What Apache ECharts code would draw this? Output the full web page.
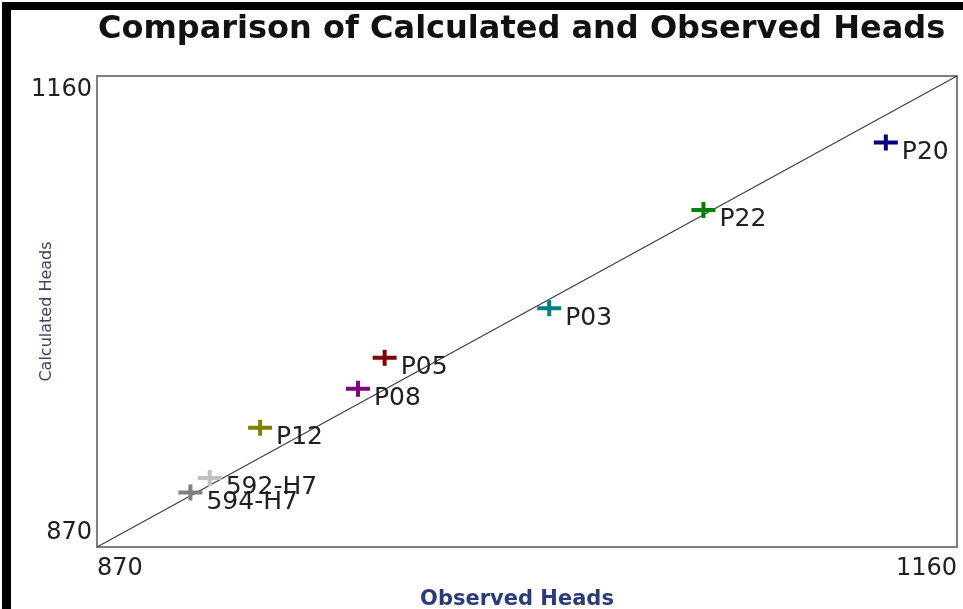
<!DOCTYPE html>
<html>
<head>
<meta charset="utf-8">
<script src="https://cdn.jsdelivr.net/npm/echarts@6/dist/echarts.min.js"></script>
<style>
  html, body { margin: 0; padding: 0; background: #fff; }
  #chart { width: 963px; height: 609px; }
</style>
</head>
<body>
<div id="chart"></div>
<script>
// Observation wells: observed vs calculated heads
const wellNames = ['P20', 'P22', 'P03', 'P05', 'P08', 'P12', '592-H7', '594-H7'];
const observedHeads = [1136, 1074.5, 1022.5, 967, 958, 925, 908, 901.5];
const calculatedHeads = [1119, 1077.5, 1017, 986.5, 967.5, 943.5, 912.5, 903.5];
const wellColors = ['#00007f', '#007f00', '#007f7f', '#7f0000', '#7f007f', '#7f7f00', '#c0c0c0', '#7f7f7f'];

// Axis range and the 1:1 reference line
const axisMin = 870;
const axisMax = 1160;
const tickLabels = [870, 1160];
const lineOfEquality = [[axisMin, axisMin], [axisMax, axisMax]];

const plusPath = 'path://M0,6H24V10H0Z M10,0H14V16H10Z';
const labelFont = '"DejaVu Sans", sans-serif';

const chart = echarts.init(document.getElementById('chart'), null, { renderer: 'canvas' });

const pointSeries = wellNames.map((name, i) => ({
  name: name,
  type: 'scatter',
  z: 5,
  symbol: plusPath,
  symbolSize: [24, 16],
  itemStyle: { color: wellColors[i], opacity: 1 },
  data: [[observedHeads[i], calculatedHeads[i]]],
  label: {
    show: true,
    formatter: name,
    position: [28, 18],
    align: 'left',
    verticalAlign: 'middle',
    fontFamily: labelFont,
    fontSize: 25,
    color: '#202020'
  },
  emphasis: { disabled: true },
  animation: false
}));

chart.setOption({
  animation: false,
  backgroundColor: '#ffffff',
  title: {
    text: 'Comparison of Calculated and Observed Heads',
    left: 93,
    top: 9,
    textStyle: {
      fontFamily: labelFont,
      fontWeight: 'bold',
      fontSize: 32,
      color: '#111111'
    }
  },
  grid: {
    left: 97,
    right: 6,
    top: 76,
    bottom: 62,
    outerBoundsMode: 'none',
    containLabel: false,
    show: true,
    borderColor: '#7f7f7f',
    borderWidth: 2,
    backgroundColor: '#ffffff'
  },
  xAxis: {
    type: 'value',
    min: axisMin,
    max: axisMax,
    interval: axisMax - axisMin,
    name: 'Observed Heads',
    nameLocation: 'middle',
    nameGap: 42,
    nameMoveOverlap: false,
    nameTextStyle: {
      fontFamily: labelFont,
      fontWeight: 'bold',
      fontSize: 21,
      color: '#2b3b78',
      padding: [0, 20, 0, 0]
    },
    axisLine: { show: true, lineStyle: { color: '#7f7f7f', width: 2 } },
    axisTick: { show: false },
    splitLine: { show: false },
    axisLabel: {
      margin: 10,
      fontFamily: labelFont,
      fontSize: 24,
      color: '#202020',
      alignMinLabel: 'left',
      alignMaxLabel: 'right',
      formatter: v => (tickLabels.includes(v) ? String(v) : '')
    }
  },
  yAxis: {
    type: 'value',
    min: axisMin,
    max: axisMax,
    interval: axisMax - axisMin,
    name: 'Calculated Heads',
    nameLocation: 'middle',
    nameRotate: 90,
    nameGap: 42,
    nameMoveOverlap: false,
    nameTextStyle: {
      fontFamily: labelFont,
      fontSize: 16,
      color: '#4a3a5a'
    },
    axisLine: { show: true, lineStyle: { color: '#7f7f7f', width: 2 } },
    axisTick: { show: false },
    splitLine: { show: false },
    axisLabel: {
      margin: 5,
      fontFamily: labelFont,
      fontSize: 24,
      lineHeight: 28,
      color: '#202020',
      verticalAlignMinLabel: 'bottom',
      verticalAlignMaxLabel: 'top',
      formatter: v => (tickLabels.includes(v) ? String(v) : '')
    }
  },
  graphic: [
    // window frame edges on the left and top
    { type: 'rect', left: 2, top: 2, shape: { width: 9, height: 607 }, style: { fill: '#000' }, z: 100 },
    { type: 'rect', left: 2, top: 2, shape: { width: 961, height: 8 }, style: { fill: '#000' }, z: 100 },
    // trims labels that run past the right plot edge
    { type: 'rect', right: 0, top: 76, shape: { width: 5, height: 472 }, style: { fill: '#fff' }, z: 100 }
  ],
  series: [
    {
      name: '1:1',
      type: 'line',
      z: 3,
      data: lineOfEquality,
      symbol: 'none',
      lineStyle: { color: '#404040', width: 1.3 },
      emphasis: { disabled: true },
      silent: true
    }
  ].concat(pointSeries)
});
</script>
</body>
</html>
